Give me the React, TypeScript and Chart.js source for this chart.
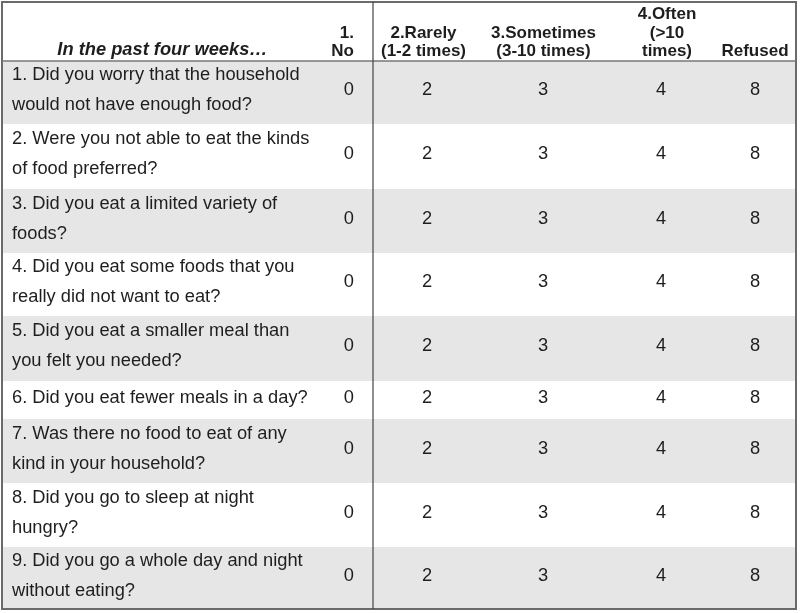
import { useEffect, useRef } from "react";
import { Chart, registerables } from "chart.js";

Chart.register(...registerables);

// ---- content ----
const LEAD_HEADER = "In the past four weeks…";
const RESPONSE_HEADERS: string[][] = [
  ["1.", "No"],
  ["2.Rarely", "(1-2 times)"],
  ["3.Sometimes", "(3-10 times)"],
  ["4.Often", "(>10", "times)"],
  ["Refused"],
];
const RESPONSE_CODES: number[] = [0, 2, 3, 4, 8];
const QUESTIONS: string[][] = [
  ["1. Did you worry that the household", "would not have enough food?"],
  ["2. Were you not able to eat the kinds", "of food preferred?"],
  ["3. Did you eat a limited variety of", "foods?"],
  ["4. Did you eat some foods that you", "really did not want to eat?"],
  ["5. Did you eat a smaller meal than", "you felt you needed?"],
  ["6. Did you eat fewer meals in a day?"],
  ["7. Was there no food to eat of any", "kind in your household?"],
  ["8. Did you go to sleep at night", "hungry?"],
  ["9. Did you go a whole day and night", "without eating?"],
];

// ---- layout (canvas units) ----
const W = 800;
const H = 613;
const T_LEFT = 2;
const T_RIGHT = 796;
const T_TOP = 2;
const HEADER_BOTTOM = 61;
const ROW_HEIGHTS = [63, 65, 64, 63, 65, 38, 64, 64, 62];
const DIVIDER_X = 373;
const CELL_X = [354, 427, 543, 661, 755];
const HEAD_X = [354, 423.5, 543.5, 667, 755];
const HEAD_LAST_BASELINE = 56;
const HEAD_LINE = 18.5;
const Q_X = 12;
const Q_LINE_GAP = 30;
const FONT = "'Liberation Sans', Arial, sans-serif";
const BODY_SIZE = 18.3;
const HEAD_SIZE = 17;
const TEXT = "#1e1e1e";
const SHADE = "#e6e6e6";

function rowTops(): number[] {
  const tops: number[] = [];
  let y = HEADER_BOTTOM;
  for (const h of ROW_HEIGHTS) {
    tops.push(y);
    y += h;
  }
  return tops;
}
const ROW_TOPS = rowTops();
const T_BOTTOM = ROW_TOPS[ROW_TOPS.length - 1] + ROW_HEIGHTS[ROW_HEIGHTS.length - 1];
const rowMid = (i: number) => ROW_TOPS[i] + ROW_HEIGHTS[i] / 2 - 4;

export default function App() {
  const ref = useRef<HTMLCanvasElement | null>(null);

  useEffect(() => {
    if (!ref.current) return;
    const points: { x: number; y: number; code: number; col: number }[] = [];
    QUESTIONS.forEach((_, r) => {
      RESPONSE_CODES.forEach((code, c) => {
        points.push({ x: CELL_X[c], y: rowMid(r), code, col: c });
      });
    });

    const tablePlugin = {
      id: "tablePlugin",
      beforeDatasetsDraw(chart: any) {
        const ctx = chart.ctx as CanvasRenderingContext2D;
        const xs = chart.scales.x;
        const ys = chart.scales.y;
        const px = (v: number) => xs.getPixelForValue(v);
        const py = (v: number) => ys.getPixelForValue(v);
        ctx.save();
        ctx.fillStyle = "#ffffff";
        ctx.fillRect(0, 0, chart.width, chart.height);
        // shaded rows
        ROW_TOPS.forEach((top, i) => {
          if (i % 2 === 0) {
            ctx.fillStyle = SHADE;
            ctx.fillRect(px(T_LEFT), py(top), px(T_RIGHT) - px(T_LEFT), py(top + ROW_HEIGHTS[i]) - py(top));
          }
        });
        // lines
        ctx.strokeStyle = "#6a6a6a";
        ctx.lineWidth = 2;
        ctx.strokeRect(px(T_LEFT), py(T_TOP), px(T_RIGHT) - px(T_LEFT), py(T_BOTTOM) - py(T_TOP));
        ctx.lineWidth = 1.5;
        ctx.strokeStyle = "#777777";
        ctx.beginPath();
        ctx.moveTo(px(T_LEFT), py(HEADER_BOTTOM));
        ctx.lineTo(px(T_RIGHT), py(HEADER_BOTTOM));
        ctx.stroke();
        ctx.lineWidth = 1.2;
        ctx.strokeStyle = "#444444";
        ctx.beginPath();
        ctx.moveTo(px(DIVIDER_X), py(T_TOP));
        ctx.lineTo(px(DIVIDER_X), py(T_BOTTOM));
        ctx.stroke();

        // header
        ctx.fillStyle = TEXT;
        ctx.textBaseline = "alphabetic";
        ctx.font = `italic bold ${BODY_SIZE}px ${FONT}`;
        ctx.textAlign = "center";
        ctx.fillText(LEAD_HEADER, px(162.5), py(55));
        ctx.font = `bold ${HEAD_SIZE}px ${FONT}`;
        RESPONSE_HEADERS.forEach((lines, c) => {
          ctx.textAlign = c === 0 ? "right" : "center";
          lines.forEach((ln, k) => {
            const base = HEAD_LAST_BASELINE - (lines.length - 1 - k) * HEAD_LINE;
            ctx.fillText(ln, px(HEAD_X[c]), py(base));
          });
        });

        // questions
        ctx.font = `${BODY_SIZE}px ${FONT}`;
        ctx.textAlign = "left";
        const capHalf = BODY_SIZE * 0.358;
        QUESTIONS.forEach((lines, r) => {
          const mid = rowMid(r);
          lines.forEach((ln, k) => {
            const off = (k - (lines.length - 1) / 2) * Q_LINE_GAP;
            ctx.fillText(ln, px(Q_X), py(mid + off) + capHalf);
          });
        });
        ctx.restore();
      },
      afterDatasetsDraw(chart: any) {
        const ctx = chart.ctx as CanvasRenderingContext2D;
        const meta = chart.getDatasetMeta(0);
        ctx.save();
        ctx.fillStyle = TEXT;
        ctx.font = `${BODY_SIZE}px ${FONT}`;
        ctx.textBaseline = "alphabetic";
        const capHalf = BODY_SIZE * 0.358;
        meta.data.forEach((el: any, i: number) => {
          const p = points[i];
          ctx.textAlign = p.col === 0 ? "right" : "center";
          ctx.fillText(String(p.code), el.x, el.y + capHalf);
        });
        ctx.restore();
      },
    };

    const chart = new Chart(ref.current, {
      type: "scatter",
      data: {
        datasets: [
          {
            data: points,
            pointRadius: 0,
            pointHoverRadius: 0,
          },
        ],
      },
      options: {
        animation: false,
        responsive: false,
        devicePixelRatio: 1,
        layout: { padding: 0 },
        events: [],
        plugins: { legend: { display: false }, tooltip: { enabled: false } },
        scales: {
          x: { type: "linear", min: 0, max: W, display: false },
          y: { type: "linear", min: 0, max: H, reverse: true, display: false },
        },
      },
      plugins: [tablePlugin],
    } as any);
    return () => chart.destroy();
  }, []);

  return (
    <div style={{ position: "absolute", left: 0, top: 0, width: W, height: H, background: "#fff" }}>
      <canvas ref={ref} width={W} height={H} style={{ display: "block" }} />
    </div>
  );
}
